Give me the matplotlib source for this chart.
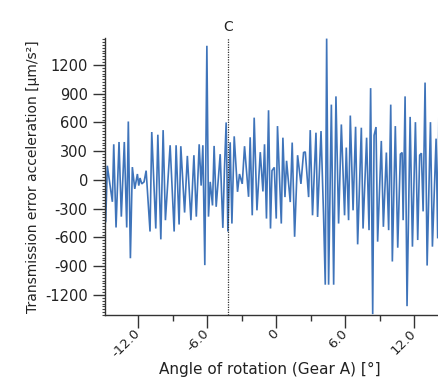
import matplotlib
matplotlib.use("Agg")
import matplotlib.pyplot as plt
from matplotlib.ticker import MultipleLocator, FixedLocator

# Angle of rotation (Gear A) [deg]
angle = [
    -14.85, -14.71, -14.27, -14.15, -13.95, -13.69, -13.49, -13.23, -13.02, -12.88,
    -12.70, -12.53, -12.32, -12.09, -11.97, -11.86, -11.71, -11.51, -11.33, -10.99,
    -10.84, -10.49, -10.31, -10.05, -9.85, -9.65, -9.24, -8.89, -8.72, -8.46,
    -8.31, -7.98, -7.74, -7.43, -7.17, -6.96, -6.71, -6.54, -6.39, -6.22,
    -6.04, -5.90, -5.75, -5.55, -5.41, -5.23, -4.88, -4.65, -4.51, -4.36,
    -4.21, -4.01, -3.86, -3.66, -3.37, -3.20, -2.96, -2.76, -2.41, -2.27,
    -2.09, -1.92, -1.68, -1.39, -1.16, -1.02, -0.85, -0.67, -0.50, -0.37,
    -0.17, 0.00, 0.11, 0.44, 0.58, 0.76, 0.90, 1.22, 1.39, 1.60,
    1.86, 2.15, 2.38, 2.53, 2.82, 2.96, 3.16, 3.46, 3.60, 3.90,
    4.12, 4.27, 4.39, 4.56, 4.80, 5.00, 5.20, 5.43, 5.67, 5.95,
    6.10, 6.30, 6.45, 6.69, 6.91, 7.09, 7.41, 7.56, 7.87, 8.08,
    8.22, 8.40, 8.52, 8.69, 8.83, 9.15, 9.33, 9.59, 9.79, 9.97,
    10.11, 10.37, 10.58, 10.81, 10.96, 11.05, 11.22, 11.39, 11.66, 11.86,
    12.12, 12.32, 12.49, 12.64, 12.79, 12.96, 13.14, 13.43, 13.60, 13.92,
    14.06, 14.18, 14.40,
]
# Transmission error acceleration [um/s^2]
accel = [
    -434, 148, -228, 372, -496, 396, -383, 396, -496, 610,
    -817, 134, -93, 62, -59, 20, -41, -20, 97, -538,
    500, -507, 472, -620, 520, -420, 362, -538, 362, -465,
    352, -340, 251, -420, 258, -383, 372, -59, 362, -889,
    1400, -383, -20, -266, 355, -280, 269, -500, 114, 600,
    -538, 393, -455, 455, -124, 62, -41, 352, -176, 445,
    -369, 650, -317, 290, -120, 372, -403, 727, -507, 97,
    131, -403, 562, -455, 441, -179, 200, -231, 390, -593,
    258, -41, 286, 293, -179, 520, -369, 493, -386, 510,
    -369, -1093, 1475, -1093, 786, -1093, 872, -455, 579, -369,
    338, -420, 672, -317, 555, -672, 545, -507, 441, -524,
    958, -1400, 465, 552, -644, 407, -489, 286, -524, 786,
    -851, 562, -707, 269, 286, -420, 872, -1317, 658, -696,
    603, -627, 258, 279, -328, 1016, -893, 603, -696, 431,
    -610, 913, -300,
]

x_ticks = [-12.0, -6.0, 0.0, 6.0, 12.0]
x_tick_labels = ["-12.0", "-6.0", "0", "6.0", "12.0"]
y_ticks = [-1200, -900, -600, -300, 0, 300, 600, 900, 1200]
cursor_pos = -4.22
cursor_label = "C"

fig = plt.figure(figsize=(4.39, 3.81), dpi=100)
ax = fig.add_axes([0.240, 0.173, 0.762, 0.727])

ax.plot(angle, accel, color="#3f74ba", lw=1.2, solid_joinstyle="miter")
ax.axvline(cursor_pos, color="#333333", lw=0.9, ls=(0, (1, 1)))
ax.text(cursor_pos, 1.015, cursor_label, transform=ax.get_xaxis_transform(),
        ha="center", va="bottom", fontsize=10, color="#222222")

ax.set_xlim(-14.88, 14.25)
ax.set_ylim(-1410, 1480)

ax.xaxis.set_major_locator(FixedLocator(x_ticks))
ax.set_xticklabels(x_tick_labels, rotation=45, ha="right", va="center",
                   rotation_mode="anchor", fontsize=9.5)
ax.xaxis.set_minor_locator(FixedLocator([-9, -3, 3, 9]))
ax.yaxis.set_major_locator(FixedLocator(y_ticks))
ax.set_yticklabels([str(v) for v in y_ticks])
ax.yaxis.set_minor_locator(MultipleLocator(30))

ax.tick_params(axis="y", which="major", direction="out", length=9, width=1.0,
               color="#333333", labelsize=10.5, labelcolor="#222222")
ax.tick_params(axis="x", which="major", direction="out", length=9, width=1.0,
               color="#333333", labelcolor="#222222", pad=3)
ax.tick_params(axis="y", which="minor", length=2.5, width=0.8, color="#444444")
ax.tick_params(axis="x", which="minor", length=4, width=1.0, color="#333333")

for s in ["top", "right"]:
    ax.spines[s].set_visible(False)
for s in ["left", "bottom"]:
    ax.spines[s].set_color("#333333")
    ax.spines[s].set_linewidth(1.0)

ax.set_ylabel("Transmission error acceleration [µm/s²]", fontsize=10, color="#222222", labelpad=4)
fig.text(0.615, 0.030, "Angle of rotation (Gear A) [°]", fontsize=11, color="#222222",
         ha="center", va="center")

fig.savefig("out.png", dpi=100)
